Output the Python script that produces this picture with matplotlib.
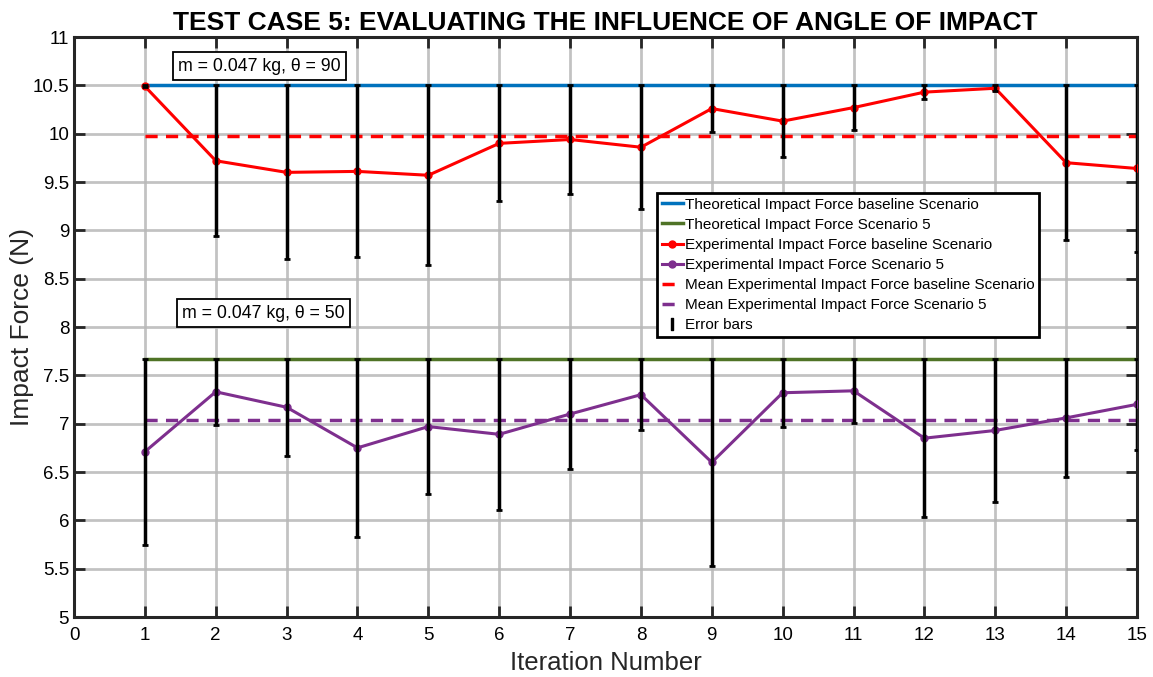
import matplotlib.pyplot as plt
from matplotlib.lines import Line2D
import numpy as np

plt.rcParams['font.family'] = ['Liberation Sans', 'DejaVu Sans']

# iteration numbers
iterations = np.arange(1, 16)

# theoretical forces (N)
theory_baseline = 10.5
theory_s5 = 7.67

# experimental forces
exp_baseline = [10.49, 9.72, 9.60, 9.61, 9.57, 9.90, 9.94, 9.86, 10.26, 10.13,
                10.27, 10.43, 10.47, 9.70, 9.64]
exp_s5 = [6.71, 7.33, 7.17, 6.75, 6.97, 6.89, 7.10, 7.30, 6.60, 7.32,
          7.34, 6.85, 6.93, 7.06, 7.20]

# error bar half-lengths
err_baseline = [0.01, 0.78, 0.90, 0.89, 0.93, 0.60, 0.56, 0.64, 0.24, 0.37,
                0.23, 0.07, 0.03, 0.80, 0.86]
err_s5 = [0.96, 0.34, 0.50, 0.92, 0.70, 0.78, 0.57, 0.37, 1.07, 0.35,
          0.33, 0.82, 0.74, 0.61, 0.47]

# means
mean_baseline = 9.98
mean_s5 = 7.04

c_blue = '#0072BD'
c_green = '#4F7326'
c_red = '#FF0000'
c_purple = '#7E2F8E'

fig = plt.figure(figsize=(11.53, 6.77), dpi=100)
ax = fig.add_axes([0.0642, 0.0886, 0.9219, 0.8567])

x_span = [iterations[0], iterations[-1]]
ax.plot(x_span, [theory_baseline] * 2, color=c_blue, lw=2.5, zorder=3)
ax.plot(x_span, [theory_s5] * 2, color=c_green, lw=2.5, zorder=3)
ax.plot(iterations, exp_baseline, color=c_red, lw=2.2, marker='o', ms=5, zorder=4)
ax.plot(iterations, exp_s5, color=c_purple, lw=2.2, marker='o', ms=5, zorder=4)
ax.plot(x_span, [mean_baseline] * 2, color=c_red, lw=2.5, ls=(0, (3.5, 2.4)), zorder=3)
ax.plot(x_span, [mean_s5] * 2, color=c_purple, lw=2.5, ls=(0, (3.5, 2.4)), zorder=3)

ax.errorbar(iterations, exp_baseline, yerr=err_baseline, fmt='none',
            ecolor='black', elinewidth=2.5, capsize=2.5, capthick=2, zorder=5)
ax.errorbar(iterations, exp_s5, yerr=err_s5, fmt='none',
            ecolor='black', elinewidth=2.5, capsize=2.5, capthick=2, zorder=5)

ax.set_xlim(0, 15)
ax.set_ylim(5, 11)
ax.set_xticks(np.arange(0, 16))
yt = np.arange(5, 11.01, 0.5)
ax.set_yticks(yt)
ax.set_yticklabels([f'{v:g}' for v in yt])
ax.tick_params(direction='in', length=8, width=2, labelsize=13.5,
               top=True, right=True, color='#262626')
ax.tick_params(axis='x', pad=7)
ax.grid(True, color='#b8b8b8', lw=2, alpha=0.85, zorder=0)
ax.set_axisbelow(True)
for s in ax.spines.values():
    s.set_linewidth(2.2)
    s.set_color('#262626')

ax.set_title('TEST CASE 5: EVALUATING THE INFLUENCE OF ANGLE OF IMPACT',
             fontsize=19, fontweight='bold', pad=5)
ax.set_xlabel('Iteration Number', fontsize=18.5, labelpad=5, color='#262626')
ax.set_ylabel('Impact Force (N)', fontsize=19, color='#262626')
ax.yaxis.set_label_coords(-0.038, 0.5)

box = dict(boxstyle='square,pad=0.3', fc='white', ec='black', lw=1.3)
ax.text(2.617, 10.70, 'm = 0.047 kg, θ = 90', fontsize=12.8, ha='center',
        va='center', bbox=box, zorder=6)
ax.text(2.674, 8.145, 'm = 0.047 kg, θ = 50', fontsize=12.8, ha='center',
        va='center', bbox=box, zorder=6)

# legend proxies (MATLAB-style short dash for the means)
proxy = [
    Line2D([], [], color=c_blue, lw=2.5),
    Line2D([], [], color=c_green, lw=2.5),
    Line2D([], [], color=c_red, lw=2.2, marker='o', ms=5),
    Line2D([], [], color=c_purple, lw=2.2, marker='o', ms=5),
    Line2D([], [], color=c_red, lw=2.5, ls=(0, (3.5, 20))),
    Line2D([], [], color=c_purple, lw=2.5, ls=(0, (3.5, 20))),
    Line2D([], [], color='black', lw=0, marker=r'$\mathrm{I}$', ms=9),
]
labels = ['Theoretical Impact Force baseline Scenario',
          'Theoretical Impact Force Scenario 5',
          'Experimental Impact Force baseline Scenario',
          'Experimental Impact Force Scenario 5',
          'Mean Experimental Impact Force baseline Scenario',
          'Mean Experimental Impact Force Scenario 5',
          'Error bars']
leg = ax.legend(proxy, labels,
                loc='upper left', bbox_to_anchor=(0.5484, 0.731),
                fontsize=11, frameon=True, fancybox=False, framealpha=1,
                edgecolor='black', handlelength=1.4, handletextpad=0.15,
                labelspacing=0.4, borderpad=0.3, borderaxespad=0)
leg.get_frame().set_linewidth(2)
leg.set_zorder(7)

fig.savefig('out.png', dpi=100)
